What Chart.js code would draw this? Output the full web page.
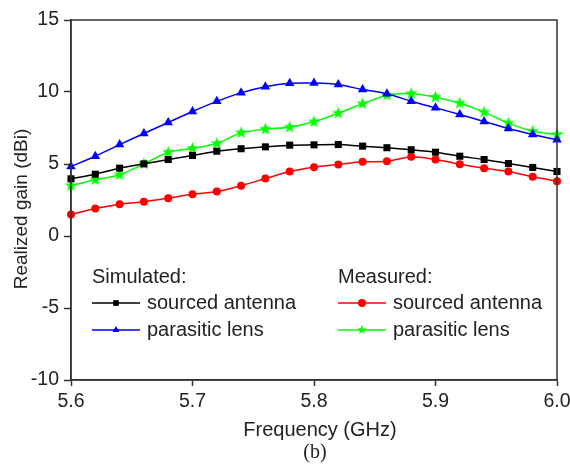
<!DOCTYPE html>
<html>
<head>
<meta charset="utf-8">
<script src="https://cdn.jsdelivr.net/npm/chart.js@4"></script>
<style>
  html, body { margin: 0; padding: 0; background: #fff; }
  #wrap { width: 570px; height: 466px; position: relative; }
</style>
</head>
<body>
<div id="wrap"><canvas id="gainChart"></canvas></div>
<script>
// frequencies (GHz)
const freqs = [5.60, 5.62, 5.64, 5.66, 5.68, 5.70, 5.72, 5.74, 5.76, 5.78, 5.80,
               5.82, 5.84, 5.86, 5.88, 5.90, 5.92, 5.94, 5.96, 5.98, 6.00];

// realized gain (dBi)
const simSourced = [3.97, 4.29, 4.71, 5.01, 5.31, 5.59, 5.89, 6.06, 6.19, 6.31, 6.33,
                    6.35, 6.24, 6.13, 5.99, 5.82, 5.54, 5.31, 5.03, 4.76, 4.48];
const simLens    = [4.83, 5.54, 6.35, 7.12, 7.88, 8.65, 9.35, 9.94, 10.36, 10.60, 10.62,
                    10.52, 10.17, 9.88, 9.36, 8.90, 8.44, 7.95, 7.46, 7.05, 6.68];
const measSourced = [1.49, 1.91, 2.21, 2.38, 2.63, 2.90, 3.09, 3.49, 3.99, 4.48, 4.78,
                     4.97, 5.15, 5.19, 5.50, 5.31, 4.99, 4.71, 4.48, 4.11, 3.81];
const measLens    = [3.49, 3.90, 4.25, 5.01, 5.82, 6.08, 6.42, 7.17, 7.42, 7.56, 7.93,
                     8.53, 9.18, 9.78, 9.88, 9.64, 9.22, 8.60, 7.84, 7.28, 7.05];

const xTicks = [5.6, 5.7, 5.8, 5.9, 6.0];
const yTicks = [-10, -5, 0, 5, 10, 15];

const FONT = '"Liberation Sans", Arial, sans-serif';

// filled 5-point star for the measured lens curve
function makeStar(size, color) {
  const c = document.createElement('canvas');
  c.width = size; c.height = size;
  const g = c.getContext('2d');
  const cx = size / 2, cy = size / 2, ro = size / 2, ri = ro * 0.42;
  g.beginPath();
  for (let i = 0; i < 10; i++) {
    const r = i % 2 ? ri : ro;
    const a = -Math.PI / 2 + i * Math.PI / 5;
    g.lineTo(cx + r * Math.cos(a), cy + r * Math.sin(a));
  }
  g.closePath();
  g.fillStyle = color;
  g.fill();
  return c;
}
const starBig = makeStar(13, '#00ff00');
const starSmall = makeStar(10, '#00ff00');

const pts = (ys) => ys.map((y, i) => ({ x: freqs[i], y: y }));

function series(label, ys, color, style, radius) {
  return {
    label: label,
    data: pts(ys),
    borderColor: color,
    backgroundColor: color,
    borderWidth: 1.5,
    pointStyle: style,
    pointRadius: radius,
    pointBorderWidth: 0,
    tension: 0.25,
    clip: false
  };
}

// legend, frame, axis titles and caption
const extras = {
  id: 'extras',
  afterDraw(chart) {
    const ctx = chart.ctx;
    const a = chart.chartArea;
    ctx.save();
    ctx.strokeStyle = '#333';
    ctx.lineWidth = 1.5;
    ctx.strokeRect(a.left, a.top, a.right - a.left, a.bottom - a.top);

    ctx.font = '20px ' + FONT;
    ctx.fillStyle = '#222';
    ctx.textBaseline = 'middle';
    ctx.textAlign = 'left';
    ctx.fillText('Simulated:', 92, 277);
    ctx.fillText('Measured:', 338, 277);

    const items = [
      [92, 303, '#000000', 'rect', 'sourced antenna'],
      [92, 330, '#0000ff', 'triangle', 'parasitic lens'],
      [338, 303, '#ff0000', 'circle', 'sourced antenna'],
      [338, 330, '#00ff00', starSmall, 'parasitic lens']
    ];
    items.forEach(([x, y, col, st, txt]) => {
      ctx.strokeStyle = col;
      ctx.lineWidth = 1.5;
      ctx.beginPath();
      ctx.moveTo(x, y); ctx.lineTo(x + 48, y);
      ctx.stroke();
      ctx.fillStyle = col;
      Chart.helpers.drawPoint(ctx, { pointStyle: st, radius: 4, rotation: 0, borderWidth: 0 }, x + 24, y);
      ctx.fillStyle = '#222';
      ctx.fillText(txt, x + 55, y);
    });

    // axis titles
    ctx.textAlign = 'center';
    ctx.fillText('Frequency (GHz)', 320, 430);
    ctx.save();
    ctx.translate(22, 209);
    ctx.rotate(-Math.PI / 2);
    ctx.font = '19px ' + FONT;
    ctx.fillText('Realized gain (dBi)', 0, 0);
    ctx.restore();

    ctx.font = '20px "Liberation Serif", "Times New Roman", serif';
    ctx.fillText('(b)', 315, 453);
    ctx.restore();
  }
};

const config = {
  type: 'line',
  data: {
    datasets: [
      series('Simulated sourced antenna', simSourced, '#000000', 'rect', 5),
      series('Simulated parasitic lens', simLens, '#0000ff', 'triangle', 5.5),
      series('Measured sourced antenna', measSourced, '#ff0000', 'circle', 4),
      series('Measured parasitic lens', measLens, '#00ff00', starBig, 6)
    ]
  },
  options: {
    responsive: true,
    maintainAspectRatio: false,
    animation: false,
    layout: { padding: { left: 0, top: 20, right: 13, bottom: 0 } },
    plugins: { legend: { display: false }, tooltip: { enabled: false } },
    scales: {
      x: {
        type: 'linear',
        min: 5.6,
        max: 6.0,
        afterBuildTicks: (s) => { s.ticks = xTicks.map(v => ({ value: v })); },
        afterFit: (s) => { s.height = 86; s.paddingLeft = 0; s.paddingRight = 0; },
        grid: { drawOnChartArea: false, drawTicks: true, tickLength: 6, tickColor: '#333', tickWidth: 1.5 },
        border: { display: true, color: '#333', width: 1.5 },
        ticks: {
          color: '#222',
          font: { family: FONT, size: 19.5 },
          padding: 4,
          maxRotation: 0,
          callback: (v) => Number(v).toFixed(1)
        }
      },
      y: {
        min: -10,
        max: 15,
        afterBuildTicks: (s) => { s.ticks = yTicks.map(v => ({ value: v })); },
        afterFit: (s) => { s.width = 71; s.paddingTop = 0; s.paddingBottom = 0; },
        grid: { drawOnChartArea: false, drawTicks: true, tickLength: 7, tickColor: '#333', tickWidth: 1.5 },
        border: { display: true, color: '#333', width: 1.5 },
        ticks: {
          color: '#222',
          font: { family: FONT, size: 19.5 },
          padding: 5
        }
      }
    }
  },
  plugins: [extras]
};

const gainChart = new Chart(document.getElementById('gainChart'), config);
</script>
</body>
</html>
